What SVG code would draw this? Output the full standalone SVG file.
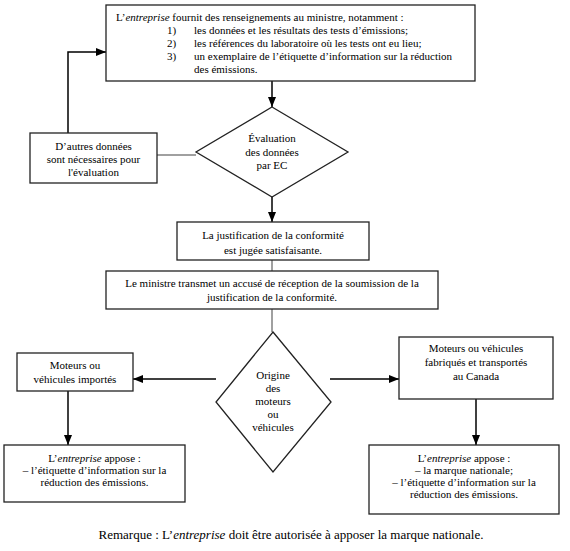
<svg xmlns="http://www.w3.org/2000/svg" width="570" height="551" viewBox="0 0 570 551">
<style>
  text { font-family: "Liberation Serif", "Times New Roman", serif; font-size: 11px; fill: #000; }
  .c { text-anchor: middle; }
  .box { fill: #fff; stroke: #222; stroke-width: 1.3; }
  .arrow { fill: none; stroke: #000; stroke-width: 1.5; marker-end: url(#ah); }
  .gline { fill: none; stroke: #808080; stroke-width: 1.5; }
  .note { font-size: 13px; }
</style>
<defs>
  <marker id="ah" markerUnits="userSpaceOnUse" markerWidth="10" markerHeight="10" viewBox="0 0 10 10" refX="10" refY="5" orient="auto">
    <path d="M0,1 L10,5 L0,9 Z" fill="#000"/>
  </marker>
</defs>
<rect width="570" height="551" fill="#fff"/>

<g id="connectors">
  <path class="arrow" d="M272,81 V107"/>
  <path class="arrow" d="M68,133 V52 H106"/>
  <path class="gline" d="M157,155 H196"/>
  <path class="arrow" d="M272,197 V222"/>
  <path class="gline" d="M272,260 V271"/>
  <path class="gline" d="M272,309 V332"/>
  <path class="arrow" d="M216,379 H133"/>
  <path class="arrow" d="M330,379 H399"/>
  <path class="arrow" d="M68,391 V445"/>
  <path class="arrow" d="M476,399 V445"/>
</g>

<g id="n-top">
  <rect class="box" x="106" y="5" width="369" height="76"/>
  <text x="116" y="21">L’<tspan font-style="italic">entreprise</tspan> fournit des renseignements au ministre, notamment :</text>
  <text x="167" y="34">1)</text><text x="194" y="34">les données et les résultats des tests d’émissions;</text>
  <text x="167" y="47">2)</text><text x="194" y="47">les références du laboratoire où les tests ont eu lieu;</text>
  <text x="167" y="60">3)</text><text x="194" y="60">un exemplaire de l’étiquette d’information sur la réduction</text>
  <text x="194" y="73">des émissions.</text>
</g>

<g id="n-autres">
  <rect class="box" x="30" y="133" width="127" height="50"/>
  <text class="c" x="93.5" y="150">D’autres données</text>
  <text class="c" x="93.5" y="163">sont nécessaires pour</text>
  <text class="c" x="93.5" y="176">l'évaluation</text>
</g>

<g id="n-eval">
  <polygon class="box" points="272,107 348,152 272,197 196,152"/>
  <text class="c" x="272" y="142">Évaluation</text>
  <text class="c" x="272" y="156">des données</text>
  <text class="c" x="272" y="169">par EC</text>
</g>

<g id="n-justif">
  <rect class="box" x="177" y="222" width="192" height="38"/>
  <text class="c" x="273" y="239">La justification de la conformité</text>
  <text class="c" x="273" y="254">est jugée satisfaisante.</text>
</g>

<g id="n-ministre">
  <rect class="box" x="106" y="271" width="332" height="38"/>
  <text class="c" x="272" y="287">Le ministre transmet un accusé de réception de la soumission de la</text>
  <text class="c" x="272" y="301">justification de la conformité.</text>
</g>

<g id="n-origine">
  <polygon class="box" points="273,332 331,402 273,472 216,402"/>
  <text class="c" x="273" y="379">Origine</text>
  <text class="c" x="273" y="392">des</text>
  <text class="c" x="273" y="405">moteurs</text>
  <text class="c" x="273" y="418">ou</text>
  <text class="c" x="273" y="431">véhicules</text>
</g>

<g id="n-importes">
  <rect class="box" x="17" y="353" width="116" height="38"/>
  <text class="c" x="75" y="369">Moteurs ou</text>
  <text class="c" x="75" y="383">véhicules importés</text>
</g>

<g id="n-canada">
  <rect class="box" x="399" y="337" width="154" height="62"/>
  <text class="c" x="476" y="352">Moteurs ou véhicules</text>
  <text class="c" x="476" y="366">fabriqués et transportés</text>
  <text class="c" x="476" y="380">au Canada</text>
</g>

<g id="n-appose-left">
  <rect class="box" x="4" y="445" width="181" height="57"/>
  <text class="c" x="94.5" y="462">L’<tspan font-style="italic">entreprise</tspan> appose :</text>
  <text class="c" x="94.5" y="474">– l’étiquette d’information sur la</text>
  <text class="c" x="94.5" y="486">réduction des émissions.</text>
</g>

<g id="n-appose-right">
  <rect class="box" x="369" y="445" width="190" height="69"/>
  <text class="c" x="464" y="462">L’<tspan font-style="italic">entreprise</tspan> appose :</text>
  <text class="c" x="464" y="474">– la marque nationale;</text>
  <text class="c" x="464" y="486">– l’étiquette d’information sur la</text>
  <text class="c" x="464" y="498">réduction des émissions.</text>
</g>

<text id="note" class="c note" x="291" y="539">Remarque : L’<tspan font-style="italic">entreprise</tspan> doit être autorisée à apposer la marque nationale.</text>
</svg>
